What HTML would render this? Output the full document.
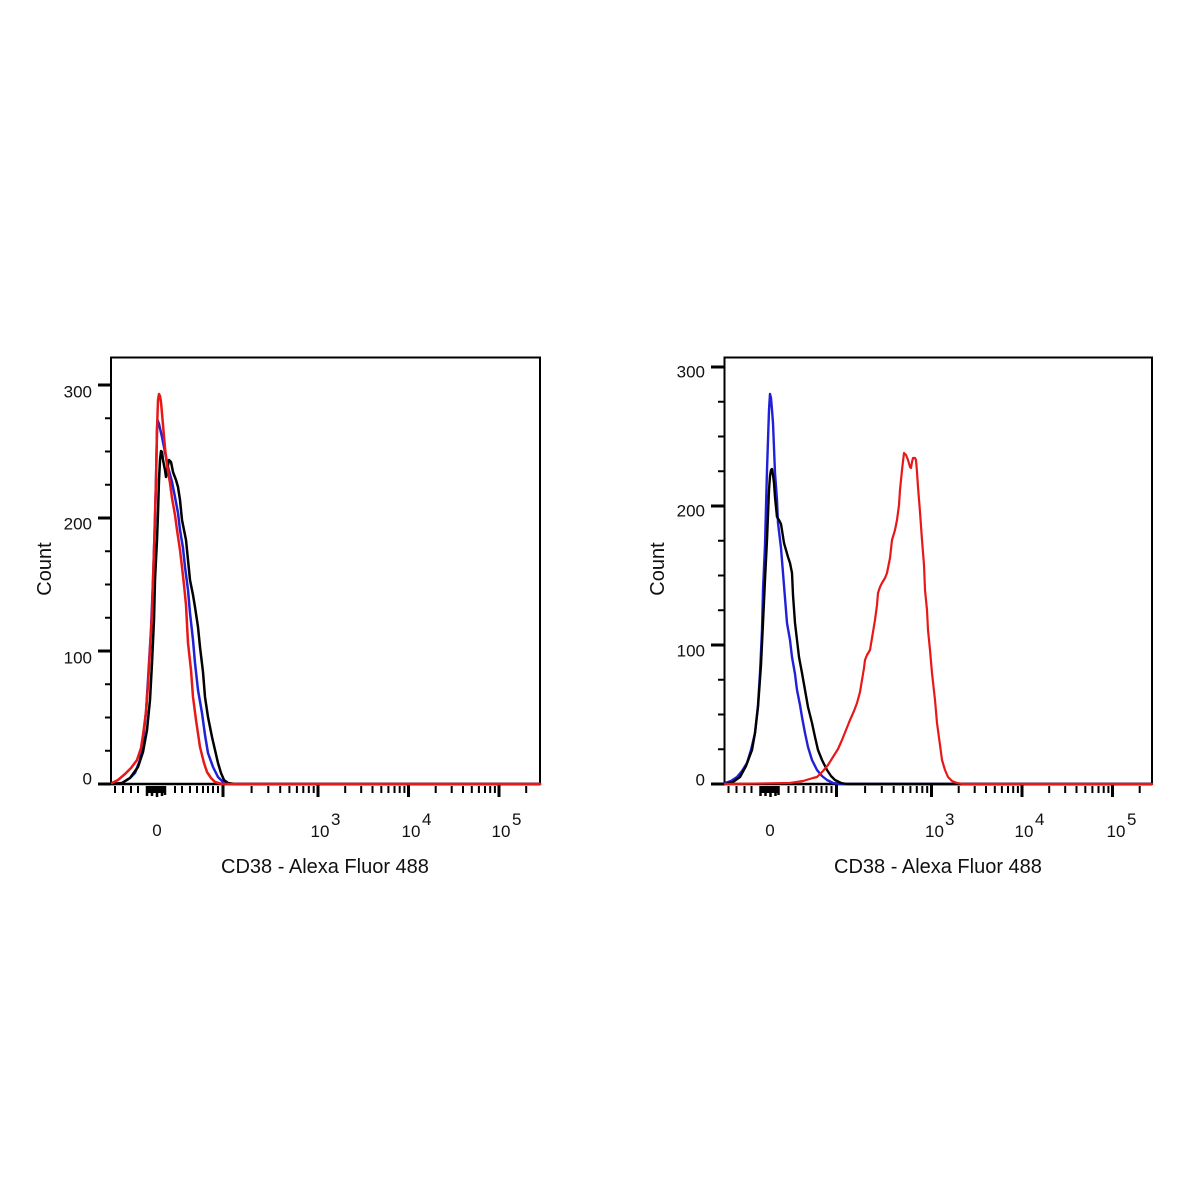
<!DOCTYPE html>
<html>
<head>
<meta charset="utf-8">
<style>
html,body{margin:0;padding:0;background:#fff;}
svg{display:block;}
text{font-family:"Liberation Sans",Arial,sans-serif;fill:#111;}
</style>
</head>
<body>
<svg width="1200" height="1200" viewBox="0 0 1200 1200" xmlns="http://www.w3.org/2000/svg">
<rect width="1200" height="1200" fill="#fff"/>

<!-- ================= LEFT PLOT ================= -->
<g>
  <rect x="111" y="357.5" width="429" height="426.5" fill="none" stroke="#000" stroke-width="2"/>
  <g stroke="#000">
    <path d="M98 784H111M98 651H111M98 518H111M98 385H111" stroke-width="3"/>
    <path d="M105 750.8H111M105 717.5H111M105 684.3H111M105 617.8H111M105 584.5H111M105 551.3H111M105 484.8H111M105 451.5H111M105 418.3H111" stroke-width="2"/>
    <path d="M98 784H540" stroke-width="2.5"/>
  </g>
  <g stroke="#000">
    <path stroke-width="2" d="M115 786V793M123 786V793M131 786V793M138 786V793
      M175 786V793M182 786V793M190 786V793M197 786V793M203 786V793M208 786V793M213 786V793M218 786V793
      M251.6 786V793M268.3 786V793M280.2 786V793M289.4 786V793M296.9 786V793M303.3 786V793M308.8 786V793M313.7 786V793
      M345.2 786V793M361.2 786V793M372.5 786V793M381.3 786V793M388.4 786V793M394.5 786V793M399.7 786V793M404.4 786V793
      M435.7 786V793M451.7 786V793M463 786V793M471.8 786V793M478.9 786V793M485 786V793M490.2 786V793M494.9 786V793
      M526.2 786V793"/>
    <path stroke-width="3" d="M223 785V797M318 785V797M408.5 785V797M499 785V797"/>
    <rect x="146" y="786" width="19" height="7" fill="#000" stroke="none"/>
    <path stroke-width="2.5" d="M147 786V796M152 786V796M157 786V797M162 786V796M165 786V795"/>
  </g>
  <g font-size="17" text-anchor="end" dominant-baseline="central">
    <text x="92" y="392">300</text>
    <text x="92" y="524">200</text>
    <text x="92" y="658">100</text>
    <text x="92" y="779">0</text>
  </g>
  <g font-size="17">
    <text x="157" y="836" text-anchor="middle">0</text>
    <text x="320" y="837" text-anchor="middle">10</text><text x="331" y="825">3</text>
    <text x="411" y="837" text-anchor="middle">10</text><text x="422" y="825">4</text>
    <text x="501" y="837" text-anchor="middle">10</text><text x="512" y="825">5</text>
  </g>
  <text x="325" y="873" font-size="20" text-anchor="middle">CD38 - Alexa Fluor 488</text>
  <text transform="translate(51,569) rotate(-90)" font-size="20" text-anchor="middle">Count</text>

  <g fill="none" stroke-width="2.5" stroke-linejoin="round" stroke-linecap="round">
    <polyline stroke="#2020d8" points="113,784 122,783 130,778 135,773 140,760 143,740 146,712 148,680 151,630 153,580 155,520 156,480 157,430 157.5,420 159,424 162,437 165,452 168,467 172,482 175,497 178,513 180,530 183,548 185,567 188,590 190,613 193,640 195,663 198,690 202,713 205,735 208,753 213,767 218,777 223,782 230,784 540,784"/>
    <polyline stroke="#000" points="113,784 122,783 130,778 138,767 143,752 147,730 150,700 152,663 154,620 155,580 157,540 158,513 159,480 160,460 161,451 162,452 163,460 165,470 166,477 167,470 169,460 171,462 173,472 176,480 178,487 180,500 182,520 184,530 186,540 188,560 190,580 193,595 195,607 198,627 200,647 203,672 205,697 208,717 212,737 215,750 218,763 221,773 224,780 228,783 235,784 540,784"/>
    <polyline stroke="#e81818" points="112,783 118,780 125,774 131,768 137,760 141,748 143,735 146,712 148,685 150,650 152,613 154,550 156,480 157,430 158,400 159,394 160,396 161,402 163,425 165,448 167,465 170,483 172,498 175,515 177,530 180,550 182,567 184,585 186,605 188,643 191,670 193,697 196,720 200,747 204,763 207,772 211,778 215,782 222,784 540,784"/>
  </g>
</g>

<!-- ================= RIGHT PLOT ================= -->
<g>
  <rect x="724.5" y="357.5" width="427.5" height="426.5" fill="none" stroke="#000" stroke-width="2"/>
  <g stroke="#000">
    <path d="M711 784H724.5M711 645H724.5M711 506H724.5M711 367H724.5" stroke-width="3"/>
    <path d="M718 749.25H724.5M718 714.5H724.5M718 679.75H724.5M718 610.25H724.5M718 575.5H724.5M718 540.75H724.5M718 471.25H724.5M718 436.5H724.5M718 401.75H724.5" stroke-width="2"/>
    <path d="M711 784H1152" stroke-width="2.5"/>
  </g>
  <g stroke="#000" transform="translate(613.5,0)">
    <path stroke-width="2" d="M115 786V793M123 786V793M131 786V793M138 786V793
      M175 786V793M182 786V793M190 786V793M197 786V793M203 786V793M208 786V793M213 786V793M218 786V793
      M251.6 786V793M268.3 786V793M280.2 786V793M289.4 786V793M296.9 786V793M303.3 786V793M308.8 786V793M313.7 786V793
      M345.2 786V793M361.2 786V793M372.5 786V793M381.3 786V793M388.4 786V793M394.5 786V793M399.7 786V793M404.4 786V793
      M435.7 786V793M451.7 786V793M463 786V793M471.8 786V793M478.9 786V793M485 786V793M490.2 786V793M494.9 786V793
      M526.2 786V793"/>
    <path stroke-width="3" d="M223 785V797M318 785V797M408.5 785V797M499 785V797"/>
    <rect x="146" y="786" width="19" height="7" fill="#000" stroke="none"/>
    <path stroke-width="2.5" d="M147 786V796M152 786V796M157 786V797M162 786V796M165 786V795"/>
  </g>
  <g font-size="17" text-anchor="end" dominant-baseline="central">
    <text x="705" y="372">300</text>
    <text x="705" y="511">200</text>
    <text x="705" y="651">100</text>
    <text x="705" y="780">0</text>
  </g>
  <g font-size="17">
    <text x="770" y="836" text-anchor="middle">0</text>
    <text x="934.5" y="837" text-anchor="middle">10</text><text x="945" y="825">3</text>
    <text x="1024" y="837" text-anchor="middle">10</text><text x="1035" y="825">4</text>
    <text x="1116" y="837" text-anchor="middle">10</text><text x="1127" y="825">5</text>
  </g>
  <text x="938" y="873" font-size="20" text-anchor="middle">CD38 - Alexa Fluor 488</text>
  <text transform="translate(664,569) rotate(-90)" font-size="20" text-anchor="middle">Count</text>

  <g fill="none" stroke-width="2.4" stroke-linejoin="round" stroke-linecap="round">
    <polyline stroke="#2020d8" points="725,783 731,781 737,777 742,771 747,763 751,750 755,733 758,705 760,673 762,630 763,590 765,545 766,507 767,470 768,440 769,410 770,394 771,398 772,410 773,423 774,448 775,473 777,500 778,523 781,548 783,573 785,598 787,623 790,640 792,657 795,674 797,690 800,705 802,717 805,733 808,747 812,760 817,770 822,776 827,780 833,783 840,784 1152,784"/>
    <polyline stroke="#000" points="725,784 733,782 740,777 746,766 752,750 755,733 758,707 761,665 763,623 765,580 767,540 768,515 769,490 770,476 771,470 772,469 773,475 774,483 775,497 777,517 779,520 781,524 784,543 786,550 788,557 790,563 792,573 793,595 795,623 797,640 799,657 802,673 805,690 808,707 812,723 815,737 818,750 822,760 827,770 831,776 835,780 841,783 847,784 1152,784"/>
    <polyline stroke="#e81818" stroke-width="2.2" points="725,784 790,783 803,781 813,778 817,777 823,771 828,765 833,757 838,749 842,740 846,730 850,720 854,711 857,703 860,692 862,680 864,668 865,660 867,655 870,650 872,638 875,620 877,605 878,593 880,587 882,583 885,578 887,573 890,558 892,540 895,530 897,520 899,505 900,490 902,470 904,453 906,455 908,460 910,467 911,468 912,462 913,458 915,458 916,460 917,472 918,487 920,512 922,540 924,565 925,590 927,610 928,630 930,650 932,673 935,700 937,723 940,745 942,760 945,770 948,777 952,781 957,783 963,784 1152,784"/>
  </g>
</g>
</svg>
</body>
</html>
